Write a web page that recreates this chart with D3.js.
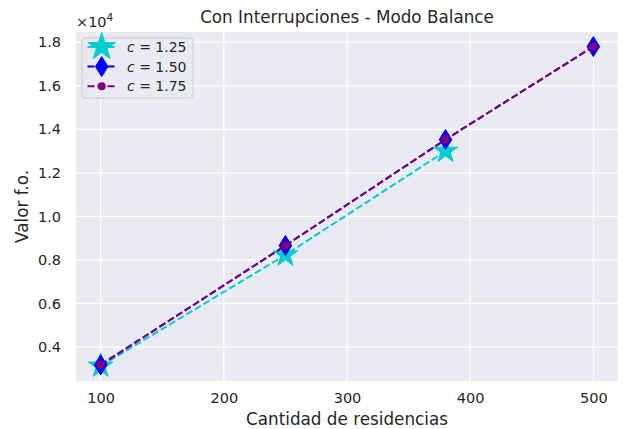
<!DOCTYPE html>
<html><head><meta charset="utf-8">
<script src="https://cdn.jsdelivr.net/npm/d3@7"></script>
<style>body{margin:0;background:#fff}svg{display:block;font-family:"DejaVu Sans",sans-serif}</style>
</head><body><svg id="c" width="623" height="429"></svg>
<script>
const xValues = [100, 250, 380, 500];
const seriesC125 = [3130, 8230, 13000];
const seriesC150 = [3180, 8660, 13530, 17800];
const seriesC175 = [3180, 8660, 13530, 17800];
const seriesNames = ["1.25", "1.50", "1.75"];
const xTicks = [100, 200, 300, 400, 500];
const yTicks = [4000, 6000, 8000, 10000, 12000, 14000, 16000, 18000];

const svg = d3.select("#c");
const m = {l: 76, r: 5, t: 32, b: 48};
const W = 623, H = 429;
const x = d3.scaleLinear().domain([80, 520]).range([m.l, W - m.r]);
const y = d3.scaleLinear().domain([2440, 18470]).range([H - m.b, m.t]);

svg.append("rect").attr("x", m.l).attr("y", m.t).attr("width", W - m.r - m.l).attr("height", H - m.b - m.t).attr("fill", "#EAEAF2");
const g = svg.append("g");
g.selectAll(".gx").data(xTicks).join("line").attr("x1", d => x(d)).attr("x2", d => x(d)).attr("y1", m.t).attr("y2", H - m.b).attr("stroke", "#fff").attr("stroke-width", 1.25);
g.selectAll(".gy").data(yTicks).join("line").attr("y1", d => y(d)).attr("y2", d => y(d)).attr("x1", m.l).attr("x2", W - m.r).attr("stroke", "#fff").attr("stroke-width", 1.25);

const xAxis = svg.append("g").attr("transform", `translate(0,${H - m.b})`).call(d3.axisBottom(x).tickValues(xTicks).tickSize(0).tickPadding(12));
const yAxis = svg.append("g").attr("transform", `translate(${m.l},0)`).call(d3.axisLeft(y).tickValues(yTicks).tickSize(0).tickPadding(15).tickFormat(d => (d / 1e4).toFixed(1)));
[xAxis, yAxis].forEach(a => { a.select(".domain").remove(); a.selectAll("text").attr("font-size", 14.5).attr("fill", "#262626").attr("font-family", "DejaVu Sans"); });
xAxis.selectAll("text").attr("dy", "0.71em");

svg.append("text").attr("x", m.l).attr("y", 27).attr("font-size", 14.5).attr("fill", "#262626").html('×10<tspan dy="-6" font-size="10.5">4</tspan>');
svg.append("text").attr("x", (m.l + W - m.r) / 2).attr("y", 23).attr("text-anchor", "middle").attr("font-size", 16.8).attr("fill", "#262626").text("Con Interrupciones - Modo Balance");
svg.append("text").attr("x", (m.l + W - m.r) / 2).attr("y", 425).attr("text-anchor", "middle").attr("font-size", 16.8).attr("fill", "#262626").text("Cantidad de residencias");
svg.append("text").attr("transform", `translate(28,${(m.t + H - m.b) / 2}) rotate(-90)`).attr("text-anchor", "middle").attr("font-size", 16.8).attr("fill", "#262626").text("Valor f.o.");

const line = d3.line().x(d => x(d[0])).y(d => y(d[1]));
const starPath = r => { let p = []; for (let i = 0; i < 10; i++) { const a = -Math.PI / 2 + i * Math.PI / 5; const rr = i % 2 ? r * 0.382 : r; p.push([rr * Math.cos(a), rr * Math.sin(a)]); } return "M" + p.map(q => q.join(",")).join("L") + "Z"; };
const diamondPath = (h, w) => `M0,${-h}L${w},0L0,${h}L${-w},0Z`;

const series = [
  {vals: seriesC125, color: "#00CED1", marker: "star"},
  {vals: seriesC150, color: "#0000FF", marker: "diamond"},
  {vals: seriesC175, color: "#800080", marker: "circle"}
];
function drawMarker(sel, s, legend) {
  if (s.marker === "star") sel.append("path").attr("d", starPath(legend ? 14.5 : 12.8)).attr("fill", s.color).attr("stroke", s.color).attr("stroke-width", 1);
  else if (s.marker === "diamond") sel.append("path").attr("d", diamondPath(10, 6.3)).attr("fill", s.color).attr("stroke", s.color).attr("stroke-width", 1);
  else sel.append("circle").attr("r", legend ? 4 : 4.2).attr("fill", s.color);
}
const plot = svg.append("g");
series.forEach(s => {
  const pts = s.vals.map((v, i) => [xValues[i], v]);
  plot.append("path").attr("d", line(pts)).attr("fill", "none").attr("stroke", s.color).attr("stroke-width", 2).attr("stroke-dasharray", "7,3");
  pts.forEach(p => drawMarker(plot.append("g").attr("transform", `translate(${x(p[0])},${y(p[1])})`), s, false));
});

// legend
const lg = svg.append("g").attr("transform", "translate(82,38)");
lg.append("rect").attr("width", 111).attr("height", 60).attr("rx", 3).attr("fill", "#EAEAF2").attr("fill-opacity", 0.8).attr("stroke", "#cccccc").attr("stroke-width", 1);
series.forEach((s, i) => {
  const cy = 9 + i * 19.6;
  lg.append("line").attr("x1", 5.5).attr("x2", 34).attr("y1", cy).attr("y2", cy).attr("stroke", s.color).attr("stroke-width", 2).attr("stroke-dasharray", "7,3");
  drawMarker(lg.append("g").attr("transform", `translate(19.7,${cy})`), s, true);
  const t = lg.append("text").attr("x", 45).attr("y", cy + 5).attr("font-size", 14).attr("fill", "#262626");
  t.append("tspan").attr("font-style", "italic").text("c");
  t.append("tspan").text(" = " + seriesNames[i]);
});
</script></body></html>
